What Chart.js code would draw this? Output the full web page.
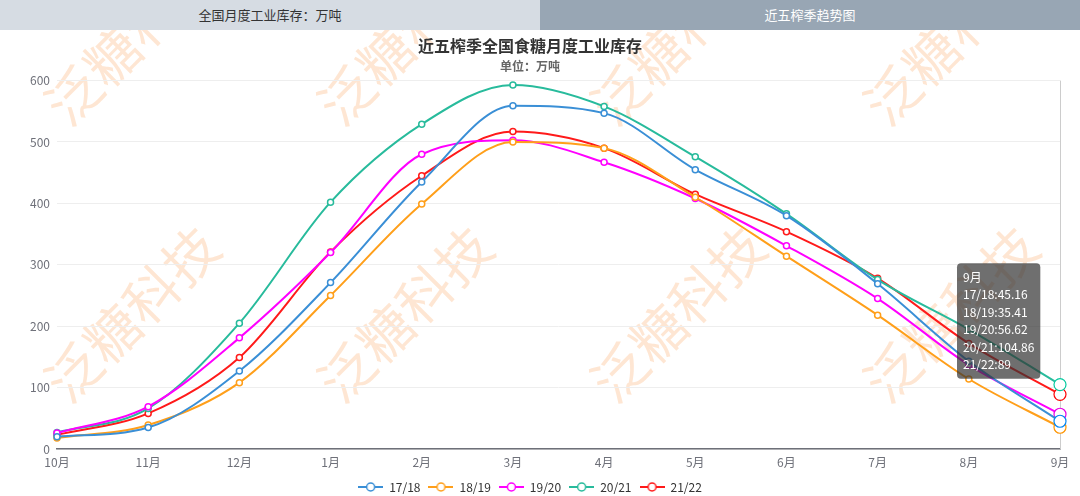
<!DOCTYPE html>
<html>
<head>
<meta charset="utf-8">
<script src="https://cdn.jsdelivr.net/npm/chart.js@4.4.1/dist/chart.umd.min.js"></script>
<style>
  html, body { margin: 0; padding: 0; background: #fff; }
  #wrap { position: relative; width: 1080px; height: 496px; overflow: hidden; }
  #tabs { position: absolute; left: 0; top: 0; width: 1080px; height: 30px; display: flex; z-index: 2;
          font-family: 'Noto Sans CJK SC', 'Noto Sans', sans-serif; font-size: 13px; }
  #tabs div { flex: 1; text-align: center; line-height: 30px; }
  .tab1 { background: #d6dce3; color: #333; }
  .tab2 { background: #98a6b4; color: #fff; }
  canvas { position: absolute; left: 0; top: 0; }
</style>
</head>
<body>
<div id="wrap">
  <div id="tabs"><div class="tab1">全国月度工业库存：万吨</div><div class="tab2">近五榨季趋势图</div></div>
  <canvas id="myChart" width="1080" height="496"></canvas>
</div>
<script>
// months of the crush season
const months = ['10月', '11月', '12月', '1月', '2月', '3月', '4月', '5月', '6月', '7月', '8月', '9月'];

// stock, 10k tonnes
const s1718 = [20, 35, 127, 271, 435, 559, 547, 455, 380, 269, 143, 45.16];
const s1819 = [18, 39, 108, 250, 399, 500, 490, 410, 314, 218, 114, 35.41];
const s1920 = [26, 69, 181, 320, 480, 503, 467, 408, 331, 245, 137, 56.62];
const s2021 = [27, 66, 205, 402, 529, 593, 558, 476, 383, 276, 195, 104.86];
const s2122 = [23, 58, 149, 321, 445, 517, 490, 415, 354, 278, 172, 89];

const seasons = ['17/18', '18/19', '19/20', '20/21', '21/22'];
const colors = ['#3a8fd6', '#ff9f1a', '#ff00ff', '#28bb9c', '#ff1a1a'];
const yTicks = [0, 100, 200, 300, 400, 500, 600];
const hoverIndex = 11;

Chart.defaults.font.family = "'Noto Sans CJK SC', 'Noto Sans', sans-serif";

// legend icon: line with empty circle
function makeIcon(color) {
  var c = document.createElement('canvas');
  c.width = 25; c.height = 14;
  var g = c.getContext('2d');
  g.strokeStyle = color;
  g.lineWidth = 2;
  g.beginPath(); g.moveTo(0, 7); g.lineTo(25, 7); g.stroke();
  g.fillStyle = '#fff';
  g.lineWidth = 1.5;
  g.beginPath(); g.arc(12.5, 7, 4, 0, Math.PI * 2); g.fill(); g.stroke();
  return c;
}
const icons = colors.map(makeIcon);

// watermark behind the chart
const watermark = {
  id: 'watermark',
  beforeDraw(chart) {
    const ctx = chart.ctx;
    const txt = '泛糖科技';
    const ang = -45 * Math.PI / 180;
    const pitch = 55;
    ctx.save();
    ctx.fillStyle = 'rgba(251,180,120,0.33)';
    ctx.font = "54px 'Noto Sans CJK SC', sans-serif";
    ctx.textAlign = 'center';
    ctx.textBaseline = 'middle';
    for (const cy of [37, 314]) {
      for (const cx of [132, 405, 678, 951]) {
        for (let i = 0; i < txt.length; i++) {
          const d = (i - 1.5) * pitch;
          ctx.save();
          ctx.translate(cx + d * Math.cos(ang), cy + d * Math.sin(ang));
          ctx.rotate(ang);
          ctx.fillText(txt[i], 0, 0);
          ctx.restore();
        }
      }
    }
    ctx.restore();
  }
};

// vertical axis pointer at the active month
const pointerLine = {
  id: 'pointerLine',
  beforeDatasetsDraw(chart) {
    const act = chart.getActiveElements();
    if (!act.length) return;
    const x = act[0].element.x;
    const a = chart.chartArea;
    const ctx = chart.ctx;
    ctx.save();
    ctx.strokeStyle = '#cccccc';
    ctx.lineWidth = 1;
    ctx.beginPath(); ctx.moveTo(x + 0.5, a.top); ctx.lineTo(x + 0.5, a.bottom); ctx.stroke();
    ctx.restore();
  }
};

Chart.Tooltip.positioners.leftOfPoint = function(items) {
  if (!items.length) return false;
  return { x: items[0].element.x - 103, y: 321 };
};

const allSeries = [s1718, s1819, s1920, s2021, s2122];
const datasets = seasons.map(function(name, i) {
  return {
    label: name,
    data: allSeries[i],
    borderColor: colors[i],
    backgroundColor: '#fff',
    borderWidth: 2,
    cubicInterpolationMode: 'monotone',
    pointStyle: 'circle',
    pointRadius: 3,
    pointBorderWidth: 1.5,
    pointBackgroundColor: '#fff',
    pointHoverRadius: 6,
    pointHoverBorderWidth: 1.2,
    pointHoverBackgroundColor: '#fff'
  };
});

var ctx = document.getElementById('myChart').getContext('2d');
var myChart = new Chart(ctx, {
  type: 'line',
  data: { labels: months, datasets: datasets },
  plugins: [watermark, pointerLine],
  options: {
    responsive: false,
    animation: false,
    events: [],
    layout: { padding: { top: 30, right: 20, left: 0, bottom: -7 } },
    interaction: { mode: 'index', intersect: false },
    scales: {
      x: {
        offset: false,
        grid: { display: false, drawTicks: false },
        border: { display: true, color: '#6e7079', width: 1.5 },
        ticks: { color: '#6e7079', font: { size: 12 }, padding: 6, autoSkip: false, maxRotation: 0 },
        afterFit: function(scale) { scale.height = 24; }
      },
      y: {
        min: 0,
        max: 600,
        afterBuildTicks: function(scale) { scale.ticks = yTicks.map(v => ({ value: v })); },
        grid: { color: '#eeeeee', drawTicks: false },
        border: { display: false },
        ticks: { color: '#6e7079', font: { size: 12 }, padding: 7 },
        afterFit: function(scale) { scale.width = 57; }
      }
    },
    plugins: {
      title: {
        display: true,
        text: '近五榨季全国食糖月度工业库存',
        color: '#333',
        font: { size: 16, weight: 'bold' },
        padding: { top: 6, bottom: 0 }
      },
      subtitle: {
        display: true,
        text: '单位：万吨',
        color: '#666',
        font: { size: 12, weight: 'bold' },
        padding: { top: 4, bottom: 7 }
      },
      legend: {
        position: 'bottom',
        labels: {
          usePointStyle: true,
          pointStyleWidth: 25,
          color: '#333',
          font: { size: 12 },
          padding: 8,
          generateLabels: function(chart) {
            const items = Chart.defaults.plugins.legend.labels.generateLabels(chart);
            items.forEach(function(it, i) { it.pointStyle = icons[i]; });
            return items;
          }
        }
      },
      tooltip: {
        position: 'leftOfPoint',
        xAlign: 'left',
        yAlign: 'center',
        caretSize: 0,
        caretPadding: 0,
        backgroundColor: 'rgba(50,50,50,0.7)',
        cornerRadius: 4,
        padding: { x: 6, y: 7 },
        displayColors: false,
        titleColor: '#fff',
        bodyColor: '#fff',
        titleFont: { size: 12, weight: 'normal' },
        bodyFont: { size: 12 },
        titleMarginBottom: 3,
        bodySpacing: 3,
        callbacks: {
          label: function(c) { return c.dataset.label + ':' + c.raw; }
        }
      }
    }
  }
});

var act = seasons.map(function(_, i) { return { datasetIndex: i, index: hoverIndex }; });
myChart.setActiveElements(act);
myChart.tooltip.setActiveElements(act, { x: 1060, y: 300 });
myChart.update();
</script>
</body>
</html>
